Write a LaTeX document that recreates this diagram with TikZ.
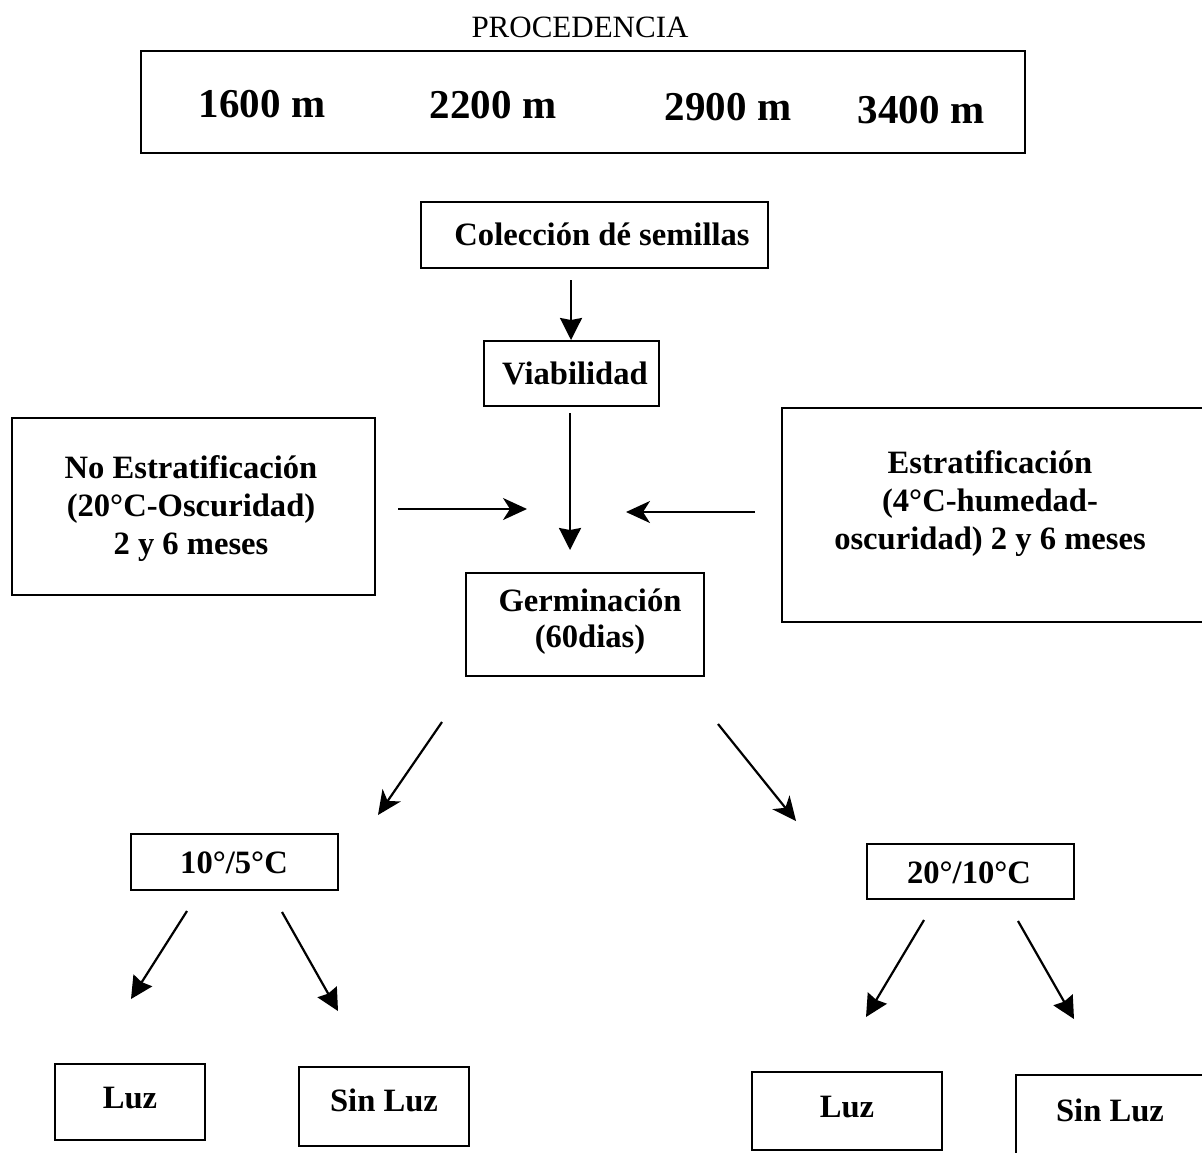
\documentclass[tikz,border=0pt]{standalone}
\usepackage{fontspec}
\setmainfont{Liberation Serif}
\usetikzlibrary{arrows.meta}
\tikzset{
  box/.style={draw, line width=1.1pt, inner sep=0pt},
  lbl/.style={font=\fontsize{16.3}{19}\selectfont\bfseries, align=center, inner sep=0pt},
  big/.style={font=\fontsize{20.5}{24}\selectfont\bfseries, inner sep=0pt},
  arr/.style={line width=1.1pt, -{Stealth[length=12pt,width=11pt,inset=3.5pt]}},
  varr/.style={line width=1.1pt, -{Stealth[length=11pt,width=11pt,inset=1pt]}}
}
\begin{document}
\begin{tikzpicture}[x=0.5pt,y=-0.5pt]
\useasboundingbox (0,0) rectangle (1202,1152);
\fill[white] (0,0) rectangle (1202,1152);

% title
\node[font=\fontsize{15.5}{18}\selectfont, inner sep=0pt] (proc) at (580,27) {PROCEDENCIA};

% boxes
\node[box, minimum width=442pt, minimum height=51pt] (procbox) at (583,102) {};
\node[box, minimum width=173.5pt, minimum height=33pt] (colbox) at (594.5,235) {};
\node[box, minimum width=87.5pt, minimum height=32.5pt] (viabbox) at (571.5,373.5) {};
\node[box, minimum width=181.5pt, minimum height=88.5pt] (noestbox) at (193.5,506.5) {};
\node[box, minimum width=214pt, minimum height=107pt] (estbox) at (996,515) {};
\node[box, minimum width=119pt, minimum height=51.5pt] (germbox) at (585,624.5) {};
\node[box, minimum width=103.5pt, minimum height=28pt] (t105box) at (234.5,862) {};
\node[box, minimum width=103.5pt, minimum height=27.5pt] (t2010box) at (970.5,871.5) {};
\node[box, minimum width=75pt, minimum height=38pt] (luzAbox) at (130,1102) {};
\node[box, minimum width=85pt, minimum height=39.5pt] (sinAbox) at (384,1106.5) {};
\node[box, minimum width=95pt, minimum height=39pt] (luzBbox) at (847,1111) {};
\node[box, minimum width=97pt, minimum height=42.5pt] (sinBbox) at (1113,1117.5) {};

% texts
\node[big] (m1600) at (262,104) {1600 m};
\node[big] (m2200) at (493,105) {2200 m};
\node[big] (m2900) at (728,107) {2900 m};
\node[big] (m3400) at (921,110) {3400 m};
\node[lbl] (colT) at (602,234) {Colección dé semillas};
\node[lbl] (viabT) at (575,373) {Viabilidad};
\node[lbl] (noestT) at (191,509) {No Estratificación\\(20°C-Oscuridad)\\2 y 6 meses};
\node[lbl] (estT) at (990,504) {Estratificación\\(4°C-humedad-\\oscuridad) 2 y 6 meses};
\node[lbl, font=\fontsize{16.3}{18}\selectfont\bfseries] (germT) at (590,622) {Germinación\\(60dias)};
\node[lbl] (t105T) at (234,863) {10°/5°C};
\node[lbl] (t2010T) at (969,873) {20°/10°C};
\node[lbl] (luzAT) at (130,1098) {Luz};
\node[lbl] (sinAT) at (384,1100) {Sin Luz};
\node[lbl] (luzBT) at (847,1107) {Luz};
\node[lbl] (sinBT) at (1110,1110) {Sin Luz};

% arrow end points
\coordinate (a1s) at (571,280); \coordinate (a1e) at (571,340);
\coordinate (a2s) at (570,413); \coordinate (a2e) at (570,550);
\coordinate (a3s) at (398,509); \coordinate (a3e) at (527,509);
\coordinate (a4s) at (755,512); \coordinate (a4e) at (626,512);
\coordinate (a5s) at (442,722); \coordinate (a5e) at (378,815);
\coordinate (a6s) at (718,724); \coordinate (a6e) at (796,821);
\coordinate (a7s) at (187,911); \coordinate (a7e) at (131,999);
\coordinate (a8s) at (282,912); \coordinate (a8e) at (338,1011);
\coordinate (a9s) at (924,920); \coordinate (a9e) at (866,1017);
\coordinate (a10s) at (1018,921); \coordinate (a10e) at (1074,1019);

\draw[varr] (a1s) -- (a1e);
\draw[varr] (a2s) -- (a2e);
\draw[arr] (a3s) -- (a3e);
\draw[arr] (a4s) -- (a4e);
\draw[arr] (a5s) -- (a5e);
\draw[arr] (a6s) -- (a6e);
\draw[varr] (a7s) -- (a7e);
\draw[varr] (a8s) -- (a8e);
\draw[varr] (a9s) -- (a9e);
\draw[varr] (a10s) -- (a10e);
\end{tikzpicture}
\end{document}
